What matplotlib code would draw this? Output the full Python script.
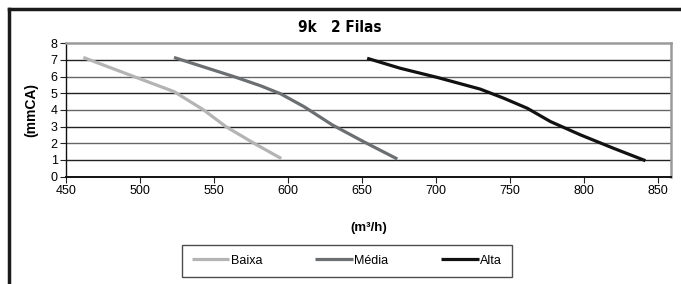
import matplotlib
matplotlib.use("Agg")
import matplotlib.pyplot as plt
from matplotlib.lines import Line2D

# data
baixa_x = [461.7, 496, 523, 543, 558, 577, 595.5]
baixa_y = [7.15, 6.0, 5.1, 4.0, 3.0, 2.0, 1.08]
media_x = [523, 563.5, 581.5, 595, 610.8, 630, 651, 674]
media_y = [7.15, 6.0, 5.45, 4.97, 4.2, 3.1, 2.1, 1.05]
alta_x = [653.6, 676, 701, 730, 746, 761.8, 777.5, 797.8, 820, 841.7]
alta_y = [7.1, 6.5, 5.95, 5.25, 4.7, 4.1, 3.3, 2.5, 1.7, 0.95]

series = [("Baixa", baixa_x, baixa_y, "#b4b4b4"),
          ("Média", media_x, media_y, "#6b6f72"),
          ("Alta", alta_x, alta_y, "#111111")]

xticks = [450, 500, 550, 600, 650, 700, 750, 800, 850]
yticks = [0, 1, 2, 3, 4, 5, 6, 7, 8]

plt.rcParams['font.family'] = ['Liberation Sans', 'DejaVu Sans']

fig = plt.figure(figsize=(6.81, 2.84), dpi=100)
ax = fig.add_axes([66 / 681, 1 - 176.5 / 284, 605 / 681, 133.2 / 284])

for name, xs, ys, col in series:
    ax.plot(xs, ys, color=col, lw=2.3, label=name, solid_capstyle='butt',
            solid_joinstyle='round')

for y in yticks[1:-1]:
    ax.axhline(y, color="#222222" if y % 2 else "#666666", lw=1.0, zorder=0)

ax.set_xlim(450, 859)
ax.set_ylim(0, 8)
ax.set_xticks(xticks)
ax.set_yticks(yticks)
ax.tick_params(axis='both', labelsize=9, length=4, width=0.8, color='#222222', pad=2)

for s in ['left', 'bottom']:
    ax.spines[s].set_color('#111111')
ax.spines['left'].set_linewidth(1.0)
ax.spines['bottom'].set_linewidth(1.4)
for s in ['top', 'right']:
    ax.spines[s].set_color('#9a9a9a')
    ax.spines[s].set_linewidth(1.8)

ax.set_xlabel("(m³/h)", fontsize=9.5, fontweight='bold', labelpad=18)
ax.set_ylabel("(mmCA)", fontsize=10, fontweight='bold', labelpad=9)

fig.text(340 / 681, 1 - 28 / 284, "9k   2 Filas", ha='center', va='center',
         fontsize=11, fontweight='bold', fontstretch='condensed',
         family=['DejaVu Sans'])

leg = fig.legend(loc='center', bbox_to_anchor=(347 / 681, 1 - 260.5 / 284), ncol=3,
                 fontsize=9, frameon=True, fancybox=False, handlelength=3.0,
                 handletextpad=0.15, columnspacing=4.2, borderpad=0.8)
leg.get_frame().set_edgecolor('#222222')
leg.get_frame().set_linewidth(1.0)

# outer frame (top and left only visible)
fig.add_artist(Line2D([9 / 681, 1.0], [1 - 9 / 284, 1 - 9 / 284], color='#1a1a1a', lw=2.5,
                      transform=fig.transFigure))
fig.add_artist(Line2D([9 / 681, 9 / 681], [0, 1 - 9 / 284], color='#1a1a1a', lw=2.5,
                      transform=fig.transFigure))

fig.savefig("out.png", dpi=100)
